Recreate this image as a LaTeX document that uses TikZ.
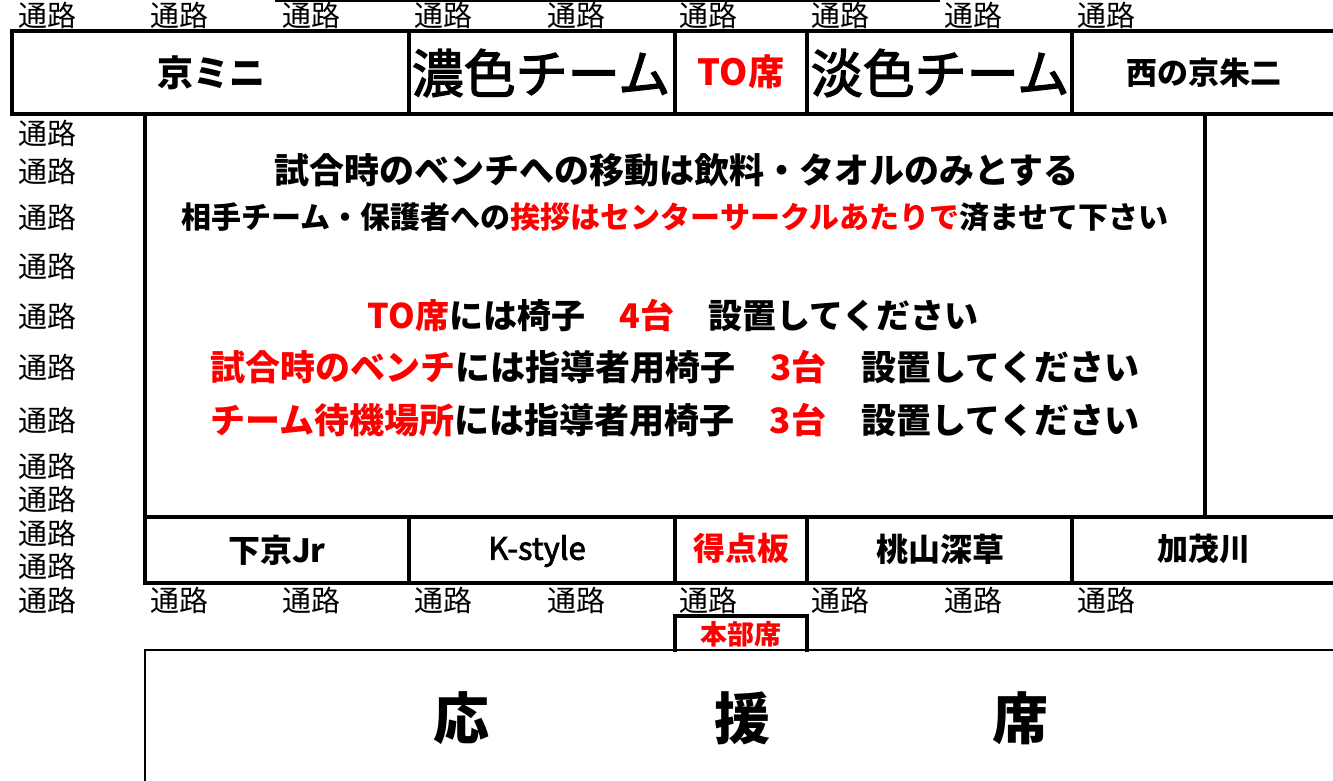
\documentclass[tikz,border=0pt]{standalone}
\usepackage{fontspec}
\newfontfamily\jp{Noto Sans CJK JP}
\newfontfamily\jpm[FakeBold=2.5]{Noto Sans CJK JP}
\definecolor{hl}{RGB}{255,0,0}
\begin{document}
\begin{tikzpicture}[x=1pt,y=-1pt,
  thk/.style={line width=4.5pt, line cap=rect},
  thin/.style={line width=1.5pt},
  mid/.style={line width=2.5pt},
  lbl/.style={inner sep=0pt, font=\jp\fontsize{#1}{#1}\selectfont},
  mlbl/.style={inner sep=0pt, font=\jpm\fontsize{#1}{#1}\selectfont},
  blbl/.style={inner sep=0pt, font=\jp\bfseries\fontsize{#1}{#1}\selectfont},
  aisle/.style={lbl=29}
]
\useasboundingbox (0,0) rectangle (1333,780);
\clip (0,0) rectangle (1333,780);

% thin line at top
\draw[thin] (275,1) -- (940,1);
% top row of benches
\draw[thk] (12,31) rectangle (1345,114);
\foreach \x in {409,675,807,1072} \draw[thk] (\x,31) -- (\x,114);
% court
\draw[thk] (145,114) -- (145,583);
\draw[thk] (1205,114) -- (1205,517);
\draw[thk] (145,517) -- (1345,517);
\draw[thk] (145,583) -- (1345,583);
\foreach \x in {409,675,807,1072} \draw[thk] (\x,517) -- (\x,583);
% headquarters seat
\draw[thk,line cap=butt] (675,652) -- (675,616) -- (807,616) -- (807,652);
% supporters area
\draw[mid] (1345,650) -- (145,650) -- (145,790);

% aisles top row
\foreach \x [count=\i] in {47,179,311,443,576,708,840,973,1106}
  \node[aisle] (at\i) at (\x,15) {通路};
% aisles bottom row
\foreach \x [count=\i] in {47,179,311,443,576,708,840,973,1106}
  \node[aisle] (ab\i) at (\x,600) {通路};
% aisles left column
\foreach \y [count=\i] in {133,171,217,266,316,367,420,466,499,533,566}
  \node[aisle] (al\i) at (47,\y) {通路};

% top row team names
\node[blbl=36] (t1) at (211,73) {京ミニ};
\node[mlbl=52] (t2) at (541,73) {濃色チーム};
\node[blbl=36, text=hl] (t3) at (741,72) {TO席};
\node[mlbl=52] (t4) at (940,73) {淡色チーム};
\node[blbl=31] (t5) at (1204,73) {西の京朱二};

% notes
\node[blbl=35] (m1) at (676,170) {試合時のベンチへの移動は飲料・タオルのみとする};
\node[blbl=30] (m2) at (675,217) {相手チーム・保護者への\textcolor{hl}{挨拶はセンターサークルあたりで}済ませて下さい};
\node[blbl=34] (m3) at (673,315) {\textcolor{hl}{TO席}には椅子　\textcolor{hl}{4台}　設置してください};
\node[blbl=35] (m4) at (675,367) {\textcolor{hl}{試合時のベンチ}には指導者用椅子　\textcolor{hl}{3台}　設置してください};
\node[blbl=35] (m5) at (675,420) {\textcolor{hl}{チーム待機場所}には指導者用椅子　\textcolor{hl}{3台}　設置してください};

% bottom row
\node[blbl=32] (b1) at (277,550) {下京Jr};
\node[mlbl=31] (b2) at (537,551) {K-style};
\node[blbl=32, text=hl] (b3) at (741,548) {得点板};
\node[blbl=32] (b4) at (940,549) {桃山深草};
\node[blbl=31] (b5) at (1204,549) {加茂川};
\node[blbl=27, text=hl] (hq) at (741,634) {本部席};

% supporters
\node[blbl=56] (s1) at (461,718) {応};
\node[blbl=56] (s2) at (742,718) {援};
\node[blbl=56] (s3) at (1020,718) {席};
\end{tikzpicture}
\end{document}
